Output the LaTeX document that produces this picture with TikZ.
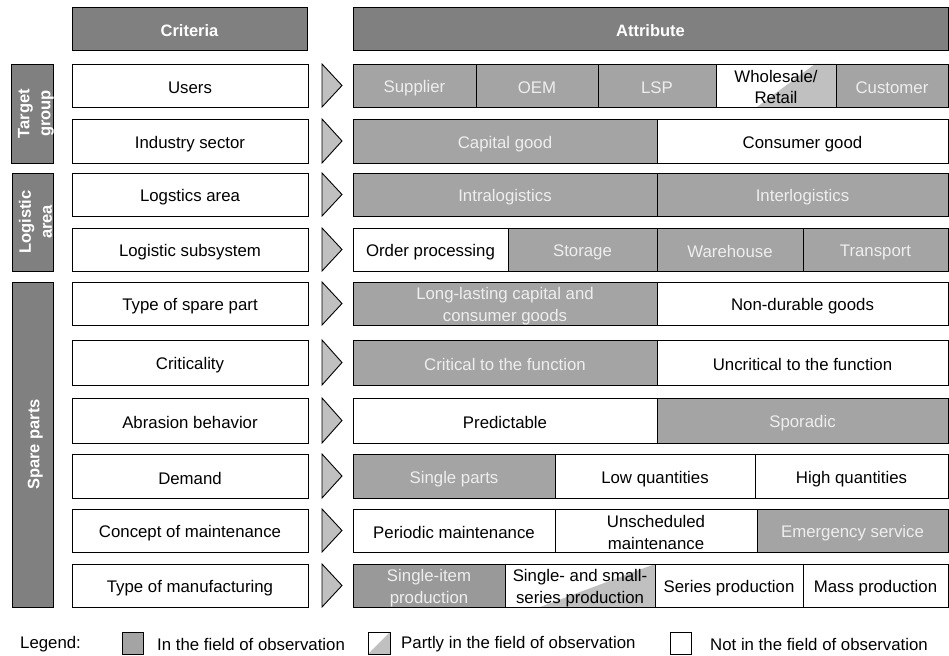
\documentclass[tikz,border=0pt]{standalone}
\usepackage{fontspec}
\setmainfont{Liberation Sans}
\definecolor{hdr}{HTML}{808080}
\definecolor{cellgray}{HTML}{A4A4A4}
\definecolor{darkcell}{HTML}{999999}
\definecolor{partgray}{HTML}{C0C0C0}
\definecolor{arrowgray}{HTML}{C0C0C0}
\definecolor{lighttext}{HTML}{EEEEEE}
\newcommand{\fs}{\fontsize{16.8}{19.5}\selectfont}
\newcommand{\fsii}{\fontsize{16.8}{21.5}\selectfont}
\newcommand{\fb}{\fontsize{16.5}{21}\selectfont\bfseries}
\newcommand{\cs}{\rule[-2pt]{0pt}{20pt}}
\newcommand{\cstop}{\rule{0pt}{17.5pt}}
\newcommand{\csbot}{\rule[-2pt]{0pt}{2pt}}
\tikzset{
  base/.style={draw=black, line width=0.9pt, inner sep=1pt, outer sep=0pt, anchor=north west, align=center, font=\fs},
  whitecell/.style={base, fill=white, text=black},
  graycell/.style={base, fill=cellgray, text=lighttext},
  darkgraycell/.style={base, fill=darkcell, text=lighttext},
  partcell/.style 2 args={base, fill=white, text=black,
    path picture={\fill[partgray] ([xshift=#1pt]path picture bounding box.south west) -- ([xshift=#2pt]path picture bounding box.north west) -- (path picture bounding box.north east) -- (path picture bounding box.south east) -- cycle;}},
  twoline/.style={font=\fsii, inner ysep=0pt},
  header/.style={base, fill=hdr, text=white, font=\fb},
  groupbar/.style={draw=black, line width=0.9pt, fill=hdr, text=white, font=\fb, align=center, inner sep=0pt, outer sep=0pt, anchor=center},
  arrowtri/.style={draw=black, line width=0.9pt, fill=arrowgray, line join=miter},
  legtext/.style={anchor=west, font=\fs, inner sep=0pt},
}
\newcommand{\mycell}[7]{\node[#6, minimum width={(#3-#2)*1pt}, minimum height={(#5-#4)*1pt}] (#1) at (#2,#4) {\cs#7\cs};}
\newcommand{\mycellii}[7]{\node[#6, twoline, minimum width={(#3-#2)*1pt}, minimum height={(#5-#4)*1pt}] (#1) at (#2,#4) {\cstop#7\csbot};}
\newcommand{\critrow}[4]{%
  \mycell{#1}{72}{308}{#2}{#3}{whitecell}{#4}
  \draw[arrowtri] (322,#2) -- (342,{(#2+#3)/2}) -- (322,#3) -- cycle;}
\begin{document}
\begin{tikzpicture}[x=1pt,y=-1pt]
\useasboundingbox (0,0) rectangle (949,655);
% headers
\mycell{crit}{72}{307}{7}{50}{header}{Criteria}
\mycell{attr}{353}{948}{7}{50}{header}{Attribute}
% group bars
\node[groupbar, rotate=90, minimum width=99pt, minimum height=41pt] (tg) at (32.5,113.5) {\rule{0pt}{18pt}Target\\group};
\node[groupbar, rotate=90, minimum width=98pt, minimum height=41pt] (la) at (32.5,222) {\rule{0pt}{18pt}Logistic\\area};
\node[groupbar, rotate=90, minimum width=325pt, minimum height=41pt] (sp) at (32.5,444.5) {\rule{0pt}{17pt}Spare parts};
% criteria rows
\critrow{c1}{64}{107}{Users}
\critrow{c2}{119}{163}{Industry sector}
\critrow{c3}{173}{216}{Logstics area}
\critrow{c4}{228}{271}{Logistic subsystem}
\critrow{c5}{282}{325}{Type of spare part}
\critrow{c6}{340}{385}{Criticality}
\critrow{c7}{398}{443}{Abrasion behavior}
\critrow{c8}{454}{498}{Demand}
\critrow{c9}{509}{552}{Concept of maintenance}
\critrow{c10}{564}{607}{Type of manufacturing}
% row 1
\mycell{a11}{353}{476}{64}{107}{graycell}{Supplier}
\mycell{a12}{476}{598}{64}{107}{graycell}{OEM}
\mycell{a13}{598}{716}{64}{107}{graycell}{LSP}
\mycellii{a14}{716}{836}{64}{107}{partcell={41}{99}}{Wholesale/\\Retail}
\mycell{a15}{836}{948}{64}{107}{graycell}{Customer}
% row 2
\mycell{a21}{353}{657}{119}{163}{graycell}{Capital good}
\mycell{a22}{657}{948}{119}{163}{whitecell}{Consumer good}
% row 3
\mycell{a31}{353}{657}{173}{216}{graycell}{Intralogistics}
\mycell{a32}{657}{948}{173}{216}{graycell}{Interlogistics}
% row 4
\mycell{a41}{353}{508}{228}{271}{whitecell}{Order processing}
\mycell{a42}{508}{657}{228}{271}{graycell}{Storage}
\mycell{a43}{657}{803}{228}{271}{graycell}{Warehouse}
\mycell{a44}{803}{948}{228}{271}{graycell}{Transport}
% row 5
\mycellii{a51}{353}{657}{282}{325}{graycell}{Long-lasting capital and\\consumer goods}
\mycell{a52}{657}{948}{282}{325}{whitecell}{Non-durable goods}
% row 6
\mycell{a61}{353}{657}{340}{385}{graycell}{Critical to the function}
\mycell{a62}{657}{948}{340}{385}{whitecell}{Uncritical to the function}
% row 7
\mycell{a71}{353}{657}{398}{443}{whitecell}{Predictable}
\mycell{a72}{657}{948}{398}{443}{graycell}{Sporadic}
% row 8
\mycell{a81}{353}{555}{454}{498}{graycell}{Single parts}
\mycell{a82}{555}{755}{454}{498}{whitecell}{Low quantities}
\mycell{a83}{755}{948}{454}{498}{whitecell}{High quantities}
% row 9
\mycell{a91}{353}{555}{509}{552}{whitecell}{Periodic maintenance}
\mycellii{a92}{555}{757}{509}{552}{whitecell}{Unscheduled\\maintenance}
\mycell{a93}{757}{948}{509}{552}{graycell}{Emergency service}
% row 10
\mycellii{b1}{353}{505}{564}{607}{darkgraycell}{Single-item\\production}
\mycellii{b2}{505}{655}{564}{607}{partcell={35}{150}}{Single- and small-\\series production}
\mycell{b3}{655}{803}{564}{607}{whitecell}{Series production}
\mycell{b4}{803}{948}{564}{607}{whitecell}{Mass production}
% legend
\node[legtext] (leg) at (20,644) {Legend:};
\node[base, fill=cellgray, minimum width=21pt, minimum height=22pt] (l1) at (122,632) {};
\node[legtext] (l1t) at (157,644) {In the field of observation};
\node[partcell={0}{22}, minimum width=22pt, minimum height=22pt] (l2) at (368,632) {};
\node[legtext] (l2t) at (401,644) {Partly in the field of observation};
\node[whitecell, minimum width=21pt, minimum height=22pt] (l3) at (670,632) {};
\node[legtext] (l3t) at (710,644) {Not in the field of observation};
\end{tikzpicture}
\end{document}
